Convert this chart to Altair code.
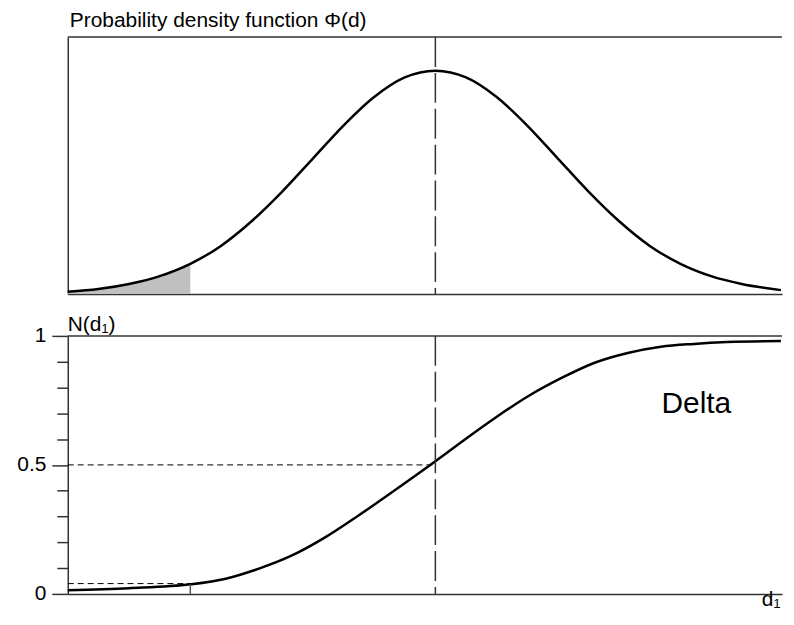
import altair as alt
import pandas as pd

# ---- data ----
pdf_x = [-3.0, -2.75, -2.5, -2.25, -2.0, -1.75, -1.5, -1.25, -1.0, -0.75, -0.5, -0.25,
         0.0, 0.25, 0.5, 0.75, 1.0, 1.25, 1.5, 1.75, 2.0, 2.25, 2.5, 2.82]
pdf_y = [0.004, 0.009, 0.018, 0.032, 0.054, 0.086, 0.130, 0.183, 0.242, 0.301, 0.352, 0.387,
         0.399, 0.387, 0.352, 0.301, 0.242, 0.183, 0.130, 0.086, 0.054, 0.032, 0.018, 0.007]

cdf_x = [-3.0, -2.5, -2.0, -1.71, -1.44, -1.17, -0.90, -0.63, -0.36, 0.0, 0.21, 0.49,
         0.76, 1.03, 1.30, 1.57, 1.84, 2.11, 2.38, 2.82]
cdf_y = [0.014, 0.022, 0.037, 0.059, 0.098, 0.149, 0.219, 0.303, 0.392, 0.514, 0.588, 0.683,
         0.767, 0.837, 0.896, 0.934, 0.958, 0.969, 0.976, 0.98]

y_tick_values = [0.0, 0.1, 0.2, 0.3, 0.4, 0.5, 0.6, 0.7, 0.8, 0.9, 1.0]
y_major_labels = ["0", "0.5", "1"]

strike = 0.0          # vertical dashed line position
shade_end = -2.0      # end of shaded tail / marked d1
shade_level = 0.04    # short dashed level
shade_cdf = 0.037     # N(d1) at shade_end
half_level = 0.5

title_top = "Probability density function Φ(d)"
title_bottom = "N(d₁)"
x_title = "d₁"
delta_label = "Delta"
delta_pos = (2.13, 0.70)

# ---- styling ----
FONT = "Liberation Sans"
W, H_TOP, H_BOT = 717, 258, 259
X_DOMAIN = [-3.0, 2.829]
TOP_MAX = 0.459
AX = "#333333"

pdf_df = pd.DataFrame({"d": pdf_x, "phi": pdf_y})
cdf_df = pd.DataFrame({"d": cdf_x, "n": cdf_y})
one = pd.DataFrame({"k": [0]})

x_scale = alt.Scale(domain=X_DOMAIN, nice=False, zero=False)

# ---------- top panel ----------
x_axis_top = alt.Axis(domain=True, domainColor=AX, domainWidth=1.5, ticks=False,
                      labels=False, grid=False, title=None)
y_axis_top = alt.Axis(domain=True, domainColor=AX, domainWidth=1.5, ticks=False,
                      labels=False, grid=False, title=None)
y_scale_top = alt.Scale(domain=[0, TOP_MAX], nice=False)

area = alt.Chart(pdf_df).transform_filter(alt.datum.d <= shade_end).mark_area(
    color="#c0c0c0", interpolate="monotone"
).encode(
    x=alt.X("d:Q", scale=x_scale, axis=x_axis_top),
    y=alt.Y("phi:Q", scale=y_scale_top, axis=y_axis_top),
)
pdf_line = alt.Chart(pdf_df).mark_line(color="black", strokeWidth=2.5, interpolate="monotone").encode(
    x=alt.X("d:Q", scale=x_scale, axis=x_axis_top),
    y=alt.Y("phi:Q", scale=y_scale_top, axis=y_axis_top),
)
center_top = alt.Chart(one).mark_rule(color=AX, strokeWidth=1.5, strokeDash=[30, 6]).encode(
    x=alt.X(datum=strike, axis=x_axis_top)
)
frame_top = alt.Chart(one).mark_rule(color=AX, strokeWidth=1.5).encode(
    y=alt.Y(datum=TOP_MAX, axis=y_axis_top)
)
title_top_txt = alt.Chart(one).mark_text(
    text=title_top, font=FONT, fontSize=21, align="left", baseline="alphabetic",
    dx=2, dy=-10, color="black"
).encode(x=alt.X(datum=X_DOMAIN[0], axis=x_axis_top), y=alt.Y(datum=TOP_MAX, axis=y_axis_top))

top = alt.layer(area, pdf_line, center_top, frame_top, title_top_txt).properties(
    width=W, height=H_TOP
)

# ---------- bottom panel ----------
major_test = "datum.value === 0 || datum.value === 0.5 || datum.value === 1"
y_axis_bot = alt.Axis(
    values=y_tick_values,
    labelExpr="datum.value === 0 ? '%s' : datum.value === 0.5 ? '%s' : datum.value === 1 ? '%s' : ''"
    % tuple(y_major_labels),
    tickSize={"condition": {"test": major_test, "value": 16}, "value": 11},
    tickColor=AX, tickWidth=1.5, domainColor=AX, domainWidth=1.5,
    labelFont=FONT, labelFontSize=21, labelColor="black", labelPadding=6,
    grid=False, title=None,
)
x_axis_bot = alt.Axis(
    domain=True, domainColor=AX, domainWidth=1.5, ticks=False, labels=False, grid=False,
    title=x_title, titleX=W - 2, titleY=12, titleAlign="right", titleBaseline="alphabetic",
    titleFont=FONT, titleFontSize=21, titleFontWeight="normal", titleColor="black",
)
y_scale_bot = alt.Scale(domain=[0, 1], nice=False)


def bx(v):
    return alt.X(datum=v, scale=x_scale, axis=x_axis_bot)


def by(v):
    return alt.Y(datum=v, scale=y_scale_bot, axis=y_axis_bot)


cdf_line = alt.Chart(cdf_df).mark_line(color="black", strokeWidth=2.5, interpolate="monotone").encode(
    x=alt.X("d:Q", scale=x_scale, axis=x_axis_bot),
    y=alt.Y("n:Q", scale=y_scale_bot, axis=y_axis_bot),
)
half_rule = alt.Chart(one).mark_rule(color="black", strokeWidth=1, strokeDash=[6, 4]).encode(
    x=bx(X_DOMAIN[0]), x2=alt.X2(datum=strike), y=by(half_level)
)
low_rule = alt.Chart(one).mark_rule(color="black", strokeWidth=1, strokeDash=[6, 4]).encode(
    x=bx(X_DOMAIN[0]), x2=alt.X2(datum=shade_end), y=by(shade_level)
)
stub = alt.Chart(one).mark_rule(color="#555555", strokeWidth=1.5).encode(
    x=bx(shade_end), y=by(0), y2=alt.Y2(datum=shade_cdf)
)
center_bot = alt.Chart(one).mark_rule(color=AX, strokeWidth=1.5, strokeDash=[30, 6]).encode(
    x=bx(strike)
)
frame_bot = alt.Chart(one).mark_rule(color=AX, strokeWidth=1.5).encode(y=by(1.0))
n_label = alt.Chart(one).mark_text(
    text=title_bottom, font=FONT, fontSize=21, align="left", baseline="alphabetic",
    dx=0, dy=-5, color="black"
).encode(x=bx(X_DOMAIN[0]), y=by(1.0))
delta_txt = alt.Chart(one).mark_text(
    text=delta_label, font=FONT, fontSize=30, align="center", baseline="alphabetic", color="black"
).encode(x=bx(delta_pos[0]), y=by(delta_pos[1]))

bottom = alt.layer(cdf_line, half_rule, low_rule, stub, center_bot, frame_bot, n_label, delta_txt).properties(
    width=W, height=H_BOT
)

chart = alt.vconcat(top, bottom, spacing=42, bounds="flush").configure_view(
    stroke=None
).properties(padding={"left": 8, "top": 1, "right": 0, "bottom": 0})

chart.save("out.html", embed_options={"renderer": "svg", "actions": False})
